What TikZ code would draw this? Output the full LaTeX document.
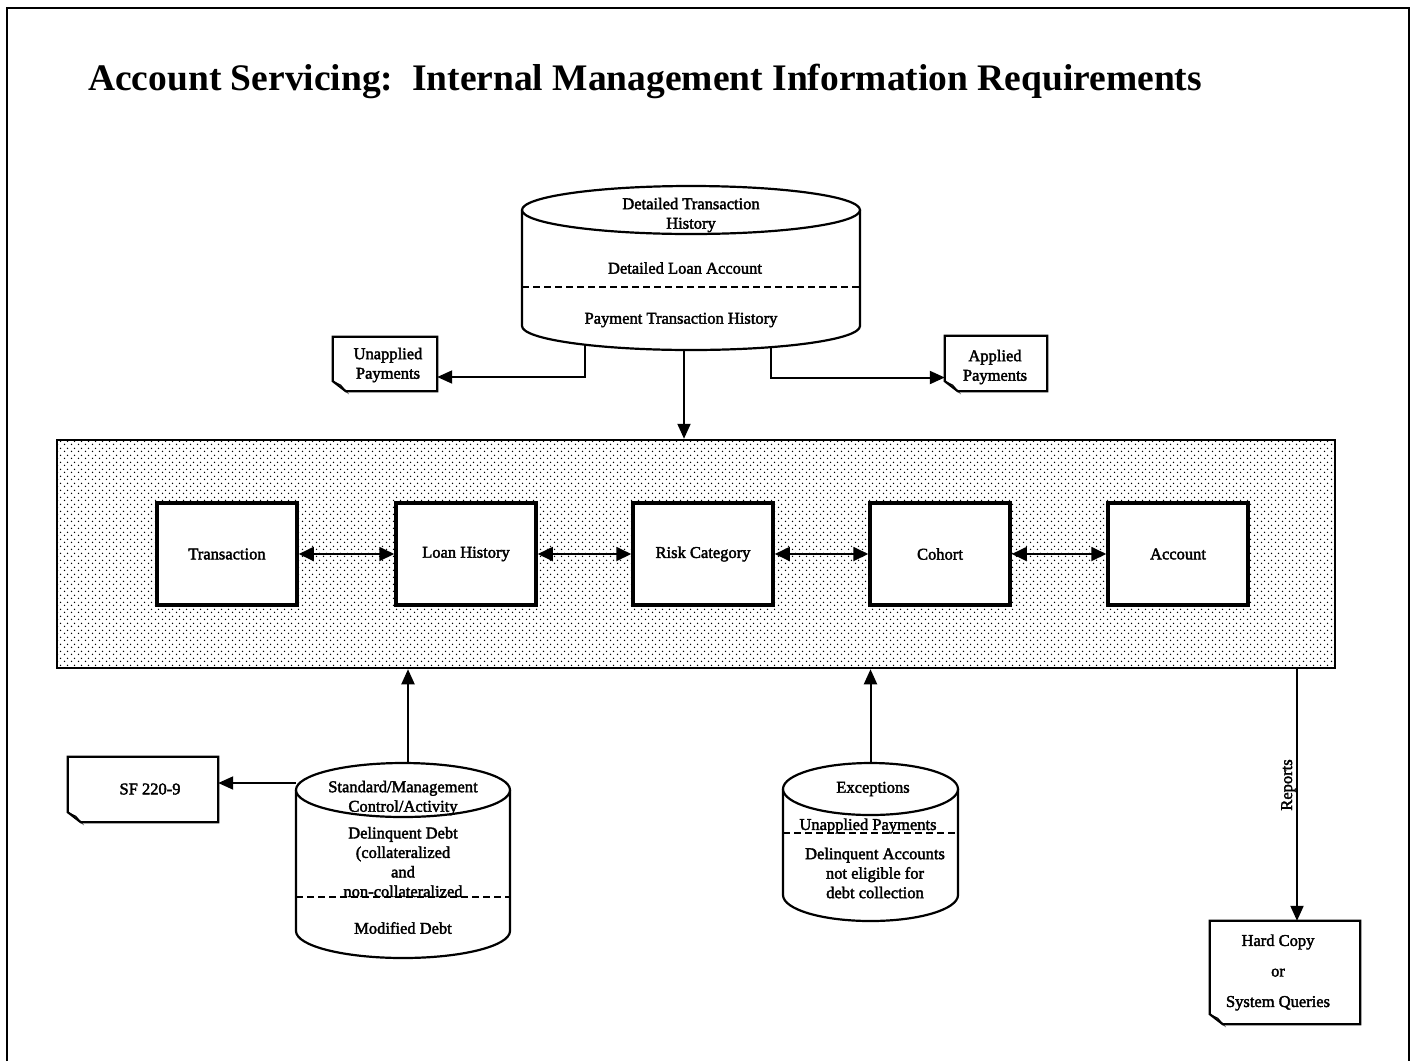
\documentclass[tikz,border=0pt]{standalone}
\usepackage{fontspec}
\setmainfont{Liberation Serif}
\newfontfamily\lblfont{Liberation Serif}[FakeBold=2.2]
\usetikzlibrary{arrows.meta,patterns}
\pgfdeclarepatternformonly{mydots}{\pgfqpoint{0pt}{0pt}}{\pgfqpoint{7pt}{7pt}}{\pgfqpoint{7pt}{7pt}}{%
  \pgfpathcircle{\pgfqpoint{1.75pt}{1.75pt}}{0.85pt}%
  \pgfpathcircle{\pgfqpoint{5.25pt}{5.25pt}}{0.85pt}%
  \pgfusepath{fill}}
\newcommand\mydoc[1]{%
  \draw[docline,fill=white] (#1.north west) -- (#1.north east) -- (#1.south east) -- ([xshift=13pt]#1.south west) -- ([yshift=10pt]#1.south west) -- cycle;
  \draw[line width=1pt,fill=black!75] ([yshift=10pt]#1.south west) -- ([xshift=8pt,yshift=6pt]#1.south west) -- ([xshift=13pt]#1.south west) -- cycle;}
% cx, rx, top, bottom, ry
\newcommand\mycyl[5]{%
  \draw[cylline,fill=white] (#1-#2,#3+#5) -- (#1-#2,#4-#5) arc[start angle=180,end angle=360,x radius=#2pt,y radius=#5pt] -- (#1+#2,#3+#5);
  \draw[cylline,fill=white] (#1,#3+#5) ellipse[x radius=#2pt,y radius=#5pt];}
\tikzset{
  lbl/.style={font=\fontsize{16.5}{19.5}\selectfont\lblfont, align=center, inner sep=0pt},
  box/.style={draw, line width=3.5pt, fill=white, minimum width=140pt, minimum height=102pt, inner sep=0pt, font=\fontsize{16.5}{19.5}\selectfont\lblfont},
  bigbox/.style={draw, line width=2.5pt, pattern=mydots, inner sep=0pt},
  doc/.style={inner sep=0pt, align=center},
  arr/.style={line width=2pt, -{Triangle[length=15pt,width=13pt]}},
  darr/.style={line width=1.8pt, {Triangle[length=15pt,width=14pt]}-{Triangle[length=15pt,width=14pt]}},
  dashline/.style={line width=1.6pt, dash pattern=on 7pt off 4pt},
  cylline/.style={line width=2.2pt},
  docline/.style={line width=2.2pt},
  hole/.style={inner sep=0pt, draw=none}
}
\begin{document}
\begin{tikzpicture}[x=1pt,y=-1pt]
\useasboundingbox (0,0) rectangle (1412,1061);
\fill[white] (0,0) rectangle (1412,1061);
% outer frame
\draw[line width=1.5pt] (7,1061) -- (7,8) -- (1409,8) -- (1409,1061);

% title
\node[anchor=base west, inner sep=0pt, font=\fontsize{37.5}{45}\selectfont\bfseries] (title) at (88,90) {Account Servicing:~~Internal Management Information Requirements};

% top cylinder
\mycyl{691}{169}{186}{350}{24}
\node[hole, minimum width=338pt, minimum height=164pt] (tdb) at (691,268) {};
\draw[dashline] (522,287) -- (860,287);
\node[lbl] (t1) at (691,215) {Detailed Transaction\\History};
\node[lbl] (t2) at (685,268) {Detailed Loan Account};
\node[lbl] (t3) at (681,320) {Payment Transaction History};

% documents top
\node[doc, minimum width=104pt, minimum height=54pt] (unapp) at (385,364) {};
\mydoc{unapp}
\node[lbl] (unappt) at (388,365) {Unapplied\\Payments};
\node[doc, minimum width=102pt, minimum height=55pt] (app) at (996,363.5) {};
\mydoc{app}
\node[lbl] (appt) at (995,367) {Applied\\Payments};

\coordinate (tdbL) at (585,345);
\coordinate (tdbR) at (771,347);
\draw[arr] (tdbL) |- ([yshift=-13pt]unapp.east);
\draw[arr] (tdbR) |- ([yshift=-14pt]app.west);

% big dotted rect
\node[bigbox, minimum width=1278pt, minimum height=228pt] (big) at (696,554) {};
\draw[arr] ([xshift=-7pt]tdb.south) -- ([xshift=-7pt]tdb.south |- big.north);

% inner boxes
\node[box] (b1) at (227,554) {Transaction};
\node[box] (b2) at (466,554) {Loan History};
\node[box] (b3) at (703,554) {Risk Category};
\node[box] (b4) at (940,554) {Cohort};
\node[box] (b5) at (1178,554) {Account};
\draw[darr] (b1.east) -- (b2.west);
\draw[darr] (b2.east) -- (b3.west);
\draw[darr] (b3.east) -- (b4.west);
\draw[darr] (b4.east) -- (b5.west);

% standard cylinder
\mycyl{403}{107}{763}{958}{27}
\node[hole, minimum width=214pt, minimum height=195pt] (std) at (403,860.5) {};
\draw[dashline] (296,897) -- (510,897);
\node[lbl] (s1) at (403,798) {Standard/Management\\Control/Activity};
\node[lbl] (s2) at (403,862) {Delinquent Debt\\(collateralized\\and\\non-collateralized};
\node[lbl] (s3) at (403,928) {Modified Debt};
\draw[arr] ([xshift=5pt]std.north) -- ([xshift=5pt]std.north |- big.south);

% SF 220-9
\node[doc, minimum width=150pt, minimum height=65pt] (sf) at (143,789.5) {};
\mydoc{sf}
\node[lbl] (sft) at (150,789) {SF 220-9};
\coordinate (stdW) at (296,783);
\draw[arr] (stdW) -- (stdW -| sf.east);

% exceptions cylinder
\mycyl{870.5}{87.5}{763}{921}{26}
\node[hole, minimum width=175pt, minimum height=158pt] (exc) at (870.5,842) {};
\draw[dashline] (783,833) -- (958,833);
\node[lbl] (e1) at (873,789) {Exceptions};
\node[lbl] (e2) at (868,826) {Unapplied Payments};
\node[lbl] (e3) at (875,873) {Delinquent Accounts\\not eligible for\\debt collection};
\draw[arr] (exc.north) -- (exc.north |- big.south);

% hard copy
\node[doc, minimum width=150pt, minimum height=103pt] (hard) at (1285,972.5) {};
\mydoc{hard}
\node[lbl, font=\fontsize{16.5}{30.5}\selectfont\lblfont] (hardt) at (1278,972.5) {Hard Copy\\or\\System Queries};
\draw[arr] ([xshift=12pt]hard.north |- big.south) -- node[lbl, rotate=90, anchor=south, inner sep=0.5pt, pos=0.46] (rep) {Reports} ([xshift=12pt]hard.north);
\end{tikzpicture}
\end{document}
